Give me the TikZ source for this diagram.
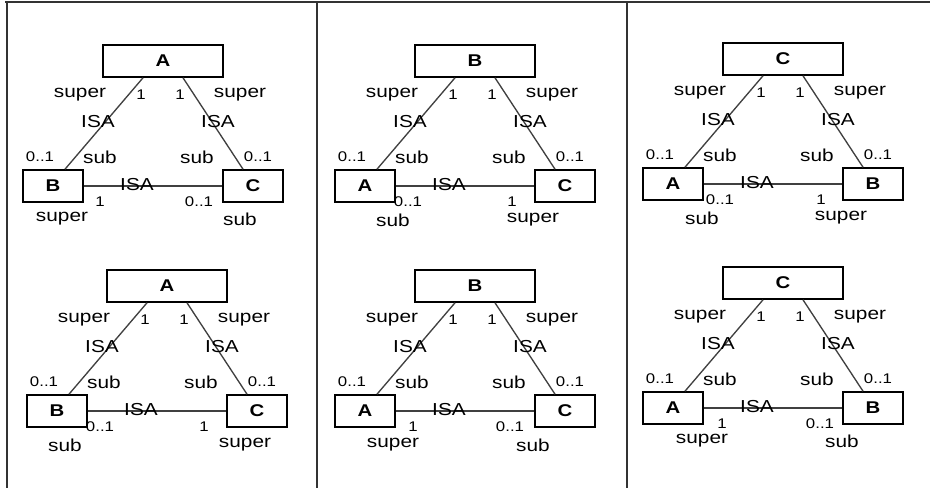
\documentclass[tikz,border=0pt]{standalone}
\usepackage{fontspec}
\setmainfont[FakeStretch=1.2]{Liberation Sans}
\tikzset{
  bigbox/.style={draw=black, line width=1.2pt, minimum width=90pt, minimum height=24pt, inner sep=0pt, font=\fontsize{12.75}{14}\selectfont\bfseries},
  smallbox/.style={draw=black, line width=1.2pt, minimum width=45pt, minimum height=24pt, inner sep=0pt, font=\fontsize{12.75}{14}\selectfont\bfseries},
  lbl/.style={font=\fontsize{13}{14}\selectfont, inner sep=0pt},
  num/.style={font=\fontsize{10.5}{12}\selectfont, inner sep=0pt},
  link/.style={draw=black!75, line width=1pt},
  frameline/.style={draw=black!80, line width=1.5pt}
}
% #1 prefix, #2 top, #3 left, #4 right
\newcommand\isatri[4]{%
  \node[bigbox]   (#1T) at (60,16)  {#2};
  \node[smallbox] (#1L) at (-50,141) {#3};
  \node[smallbox] (#1R) at (150,141) {#4};
  \draw[link] ([xshift=-15pt]#1T.south) -- ([xshift=9pt]#1L.north);
  \draw[link] ([xshift=15pt]#1T.south) -- ([xshift=-7.5pt]#1R.north);
  \draw[link] (#1L.east) -- (#1R.west);
  \node[lbl] (#1s1) at (-23,50) {super};
  \node[num] (#1n1) at (38,50) {1};
  \node[num] (#1n2) at (77,50) {1};
  \node[lbl] (#1s2) at (137,50) {super};
  \node[lbl] (#1i1) at (-5,77) {ISA};
  \node[lbl] (#1i2) at (115,77) {ISA};
  \node[num] (#1n3) at (-63,112) {0..1};
  \node[lbl] (#1b1) at (-3,112) {sub};
  \node[lbl] (#1b2) at (94,112) {sub};
  \node[num] (#1n4) at (155,112) {0..1};
  \node[lbl] (#1i3) at (34,140) {ISA};
}
\begin{document}
\begin{tikzpicture}[x=0.75pt,y=-0.75pt]
\useasboundingbox (0,0) rectangle (940,488);
\fill[white] (0,0) rectangle (940,488);
\draw[frameline] (5,2) -- (930,2);
\draw[frameline] (7,2) -- (7,488);
\draw[frameline] (317,2) -- (317,488);
\draw[frameline] (627,2) -- (627,488);
% panel 1
\begin{scope}[shift={(103,45)}]
  \isatri{a}{A}{B}{C}
  \node[num] (aq1) at (-3,157) {1};
  \node[lbl] (aq2) at (-41,174) {super};
  \node[num] (aq3) at (96,157) {0..1};
  \node[lbl] (aq4) at (137,174) {sub};
\end{scope}
% panel 2
\begin{scope}[shift={(107,270)}]
  \isatri{b}{A}{B}{C}
  \node[num] (bq1) at (-7,157) {0..1};
  \node[lbl] (bq2) at (-42,175) {sub};
  \node[num] (bq3) at (97,157) {1};
  \node[lbl] (bq4) at (138,175) {super};
\end{scope}
% panel 3
\begin{scope}[shift={(415,45)}]
  \isatri{c}{B}{A}{C}
  \node[num] (cq1) at (-7,157) {0..1};
  \node[lbl] (cq2) at (-22,175) {sub};
  \node[num] (cq3) at (97,157) {1};
  \node[lbl] (cq4) at (118,175) {super};
\end{scope}
% panel 4
\begin{scope}[shift={(415,270)}]
  \isatri{d}{B}{A}{C}
  \node[num] (dq1) at (-2,157) {1};
  \node[lbl] (dq2) at (-22,175) {super};
  \node[num] (dq3) at (95,157) {0..1};
  \node[lbl] (dq4) at (118,175) {sub};
\end{scope}
% panel 5
\begin{scope}[shift={(723,43)}]
  \isatri{e}{C}{A}{B}
  \node[num] (eq1) at (-3,157) {0..1};
  \node[lbl] (eq2) at (-21,175) {sub};
  \node[num] (eq3) at (98,157) {1};
  \node[lbl] (eq4) at (118,175) {super};
\end{scope}
% panel 6
\begin{scope}[shift={(723,267)}]
  \isatri{f}{C}{A}{B}
  \node[num] (fq1) at (-1,157) {1};
  \node[lbl] (fq2) at (-21,174) {super};
  \node[num] (fq3) at (97,157) {0..1};
  \node[lbl] (fq4) at (119,174) {sub};
\end{scope}
\end{tikzpicture}
\end{document}
